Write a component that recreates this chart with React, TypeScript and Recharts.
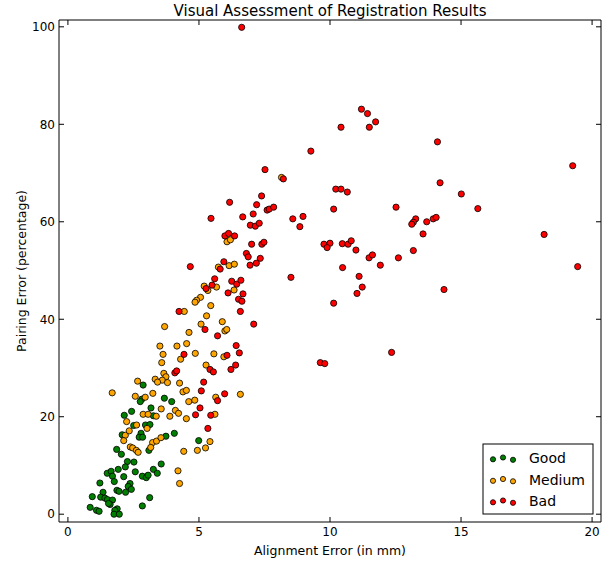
import React from 'react';
import { ScatterChart, Scatter, XAxis, YAxis } from 'recharts';

// tick values
const xTicks = [0, 5, 10, 15, 20];
const yTicks = [0, 20, 40, 60, 80, 100];

// [alignment error (mm), pairing error (%)]
const goodPoints: [number, number][] = [
  [3.68, 23.8], [3.96, 23.1], [2.87, 26.5], [2.82, 23.6], [2.76, 23.1], [2.43, 21.1], [2.15, 20.3],
  [3.17, 21.8], [3.26, 20.2], [2.51, 18.2], [2.96, 18.3], [3.13, 18.4], [2.07, 16.3], [2.79, 16.6],
  [2.72, 15.8], [2.85, 15.8], [3.74, 16.0], [4.06, 16.6], [3.09, 13.1], [1.86, 13.3], [2.04, 12.3],
  [4.99, 15.1], [2.27, 10.8], [2.52, 10.7], [3.56, 10.3], [1.5, 8.4], [1.65, 8.8], [1.7, 7.8],
  [1.77, 6.7], [1.92, 9.2], [2.19, 9.7], [2.13, 7.7], [2.57, 8.7], [2.84, 7.8], [2.99, 7.5],
  [3.06, 8.0], [3.26, 9.2], [3.41, 8.4], [1.22, 6.4], [2.37, 6.3], [2.3, 5.7], [2.42, 5.1],
  [2.2, 4.5], [1.87, 4.9], [1.95, 4.7], [1.34, 4.5], [1.25, 3.5], [1.41, 3.3], [1.51, 3.0],
  [1.7, 2.9], [1.61, 2.0], [1.55, 2.2], [0.93, 3.6], [3.12, 3.4], [2.84, 1.7], [0.85, 1.4],
  [1.09, 0.8], [1.19, 0.6], [1.88, 1.1], [1.79, 0.8], [1.76, 0.0], [1.96, 0.0],
];

const mediumPoints: [number, number][] = [
  [8.15, 69.1], [6.07, 55.9], [6.2, 56.3], [6.15, 51.0], [6.35, 51.3], [5.74, 50.7], [5.2, 46.8],
  [5.34, 45.9], [5.67, 46.6], [6.34, 46.0], [5.06, 44.5], [4.91, 43.9], [4.85, 43.5], [4.44, 41.6],
  [5.45, 42.8], [5.29, 40.7], [5.89, 39.5], [3.69, 38.5], [5.08, 39.0], [5.99, 37.6], [6.06, 37.9],
  [4.62, 37.3], [4.53, 35.0], [4.16, 34.5], [3.51, 34.5], [3.63, 32.8], [4.86, 33.0], [5.57, 32.9],
  [5.95, 32.3], [4.3, 31.8], [3.58, 31.1], [5.27, 30.6], [3.66, 28.9], [3.74, 28.2], [3.6, 27.5],
  [3.8, 27.0], [4.26, 26.9], [4.39, 25.1], [4.52, 25.4], [4.61, 23.1], [4.84, 23.4], [5.64, 24.0],
  [6.58, 24.6], [3.56, 21.6], [4.1, 21.3], [4.22, 20.7], [3.89, 20.1], [4.52, 19.6], [5.61, 20.5],
  [3.33, 27.7], [3.42, 27.1], [2.66, 27.3], [1.69, 24.9], [2.57, 24.2], [2.95, 24.0], [3.24, 24.8],
  [2.87, 20.5], [3.06, 20.5], [3.37, 20.1], [2.24, 19.0], [2.62, 18.3], [3.02, 17.6], [2.19, 16.2],
  [2.34, 17.1], [2.13, 15.1], [3.23, 14.7], [3.38, 15.0], [3.55, 15.7], [3.16, 13.7], [2.38, 13.8],
  [2.47, 13.6], [2.61, 13.1], [2.68, 12.7], [5.42, 14.9], [4.94, 13.1], [5.25, 13.6], [4.42, 12.9],
  [4.2, 8.9], [4.26, 6.3],
];

const badPoints: [number, number][] = [
  [11.2, 83.1], [11.43, 82.2], [10.42, 79.4], [11.5, 79.4], [11.74, 80.5], [9.27, 74.5], [14.1, 76.4],
  [10.22, 66.7], [10.42, 66.7], [10.66, 66.1], [14.2, 68.0], [15.01, 65.7], [15.64, 62.7], [10.14, 62.6],
  [12.52, 63.0], [8.97, 61.1], [8.85, 59.0], [13.27, 60.6], [13.18, 59.9], [13.12, 59.5], [13.69, 60.0],
  [13.94, 60.6], [14.05, 60.9], [13.55, 57.5], [9.77, 55.4], [10.0, 55.6], [9.89, 54.7], [10.47, 55.5],
  [10.69, 55.4], [10.81, 56.1], [10.99, 54.2], [11.49, 52.6], [11.62, 53.2], [11.92, 51.1], [12.61, 52.6],
  [13.18, 54.1], [10.48, 50.6], [11.11, 48.8], [11.23, 46.6], [11.03, 45.3], [10.14, 43.3], [14.35, 46.1],
  [12.35, 33.2], [9.63, 31.1], [9.8, 30.9], [19.26, 71.5], [18.17, 57.4], [19.45, 50.8],
  [6.63, 99.9], [7.52, 70.7], [8.22, 68.8], [7.39, 65.3], [6.17, 64.0], [7.2, 63.5], [7.6, 62.4],
  [7.68, 62.6], [7.85, 63.0], [5.46, 60.7], [6.67, 61.0], [7.07, 61.6], [8.58, 60.6],
  [6.96, 59.3], [7.15, 59.1], [7.3, 59.7], [5.99, 57.1], [6.13, 57.6], [6.36, 57.1], [7.01, 55.4],
  [7.4, 55.4], [7.48, 55.8], [6.81, 53.5], [6.88, 52.8], [7.34, 52.5], [6.95, 51.1], [7.19, 51.5],
  [4.67, 50.8], [5.95, 51.8], [5.81, 50.3], [8.51, 48.6], [5.6, 48.3], [6.25, 47.8], [6.44, 47.2],
  [6.6, 48.0], [5.27, 46.3], [5.5, 47.0], [6.11, 45.4], [6.68, 45.2], [6.51, 44.1], [6.64, 43.7],
  [4.24, 41.6], [6.58, 41.6], [7.09, 39.0], [5.23, 37.9], [5.71, 36.6], [6.42, 34.6], [4.43, 32.8],
  [6.07, 32.6], [6.54, 33.1], [5.42, 29.7], [5.55, 29.2], [6.4, 30.6], [6.22, 29.7], [4.08, 29.0],
  [4.15, 29.4], [5.18, 27.1], [5.09, 25.3], [5.71, 23.3], [5.98, 24.7], [5.04, 21.8], [4.87, 20.4],
  [5.45, 20.3], [5.34, 17.6],
];

const seriesNames = ['Good', 'Medium', 'Bad'];
const seriesColors = ['#008000', '#ffa500', '#ff0000'];

const toRows = (pts: [number, number][]) => pts.map(([x, y]) => ({ x, y }));

const dot = (fill: string) => (props: any) => (
  <circle cx={props.cx} cy={props.cy} r={3.1} fill={fill} stroke="#000" strokeWidth={0.8} />
);

const FONT = '"DejaVu Sans", sans-serif';
const W = 616;
const H = 561;
// plot area: x 59..601, y 20..522
const M = { top: 15, right: 10, left: 19, bottom: 9 };

export default function App() {
  const cx = 330;
  const cy = 271;
  const all = [goodPoints, mediumPoints, badPoints];

  return (
    <div style={{ position: 'absolute', left: 0, top: 0, width: W, height: H, background: '#fff', fontFamily: FONT }}>
      <ScatterChart width={W} height={H} margin={M}>
        <XAxis
          type="number" dataKey="x" domain={[-0.34, 20.34]} ticks={xTicks} allowDataOverflow
          height={30} interval={0} stroke="#000" tickSize={-5} tickMargin={10}
          tick={{ fill: '#000', fontSize: 12, fontFamily: FONT }}
        />
        <XAxis
          xAxisId="top" orientation="top" type="number" dataKey="x" domain={[-0.34, 20.34]} ticks={xTicks}
          allowDataOverflow height={5} interval={0} stroke="#000" tickSize={-5} tickFormatter={() => ''}
        />
        <YAxis
          type="number" dataKey="y" domain={[-1.6, 101.4]} ticks={yTicks} allowDataOverflow
          width={40} interval={0} stroke="#000" tickSize={-5} tickMargin={9}
          tick={{ fill: '#000', fontSize: 12, fontFamily: FONT }}
        />
        <YAxis
          yAxisId="right" orientation="right" type="number" dataKey="y" domain={[-1.6, 101.4]} ticks={yTicks}
          allowDataOverflow width={5} interval={0} stroke="#000" tickSize={-5} tickFormatter={() => ''}
        />
        {all.map((pts, i) => (
          <Scatter
            key={seriesNames[i]} name={seriesNames[i]} data={toRows(pts)}
            shape={dot(seriesColors[i])} isAnimationActive={false}
          />
        ))}
      </ScatterChart>
      <svg width={W} height={H} style={{ position: 'absolute', left: 0, top: 0, pointerEvents: 'none' }}>
        <text x={cx} y={16} textAnchor="middle" fontSize={15} fill="#000" fontFamily={FONT}>
          Visual Assessment of Registration Results
        </text>
        <text x={cx} y={555} textAnchor="middle" fontSize={12.5} fill="#000" fontFamily={FONT}>
          Alignment Error (in mm)
        </text>
        <text x={26} y={cy} textAnchor="middle" fontSize={12.5} fill="#000" fontFamily={FONT}
          transform={`rotate(-90 26 ${cy})`}>
          Pairing Error (percentage)
        </text>
        {/* legend, lower right */}
        <rect x={483} y={444} width={110} height={70} fill="#fff" stroke="#000" strokeWidth={1} />
        {seriesNames.map((name, i) => {
          const ry = 458 + i * 21.5;
          return (
            <g key={name}>
              <circle cx={493} cy={ry + 1.3} r={2.6} fill={seriesColors[i]} stroke="#000" strokeWidth={0.8} />
              <circle cx={503} cy={ry - 0.5} r={2.6} fill={seriesColors[i]} stroke="#000" strokeWidth={0.8} />
              <circle cx={513} cy={ry + 1.8} r={2.6} fill={seriesColors[i]} stroke="#000" strokeWidth={0.8} />
              <text x={529} y={ry + 5} fontSize={14} fill="#000" fontFamily={FONT}>{name}</text>
            </g>
          );
        })}
      </svg>
    </div>
  );
}
